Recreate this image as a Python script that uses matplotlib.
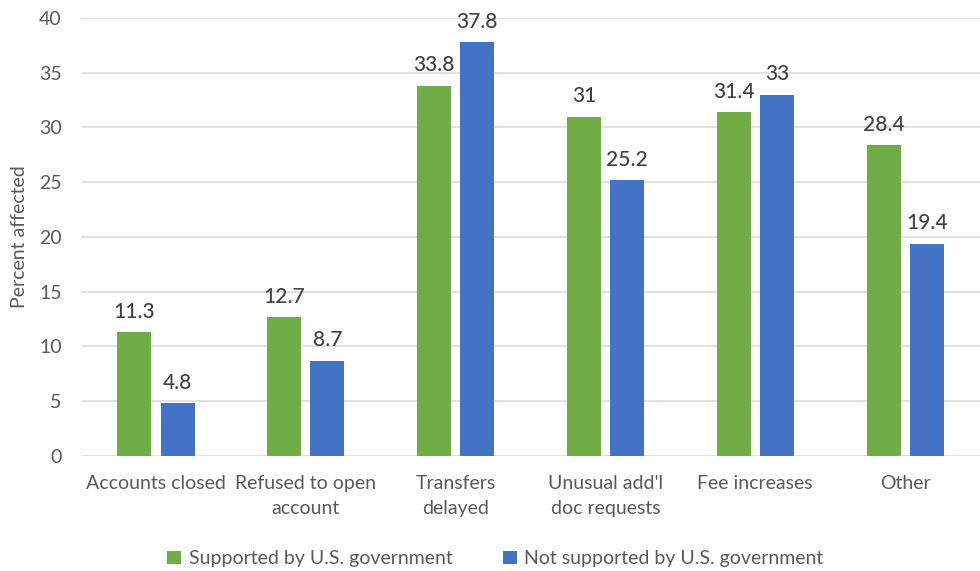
import matplotlib
matplotlib.use("Agg")
import matplotlib.pyplot as plt
import numpy as np

categories = ["Accounts closed", "Refused to open\naccount", "Transfers\ndelayed",
              "Unusual add'l\ndoc requests", "Fee increases", "Other"]
supported = [11.3, 12.7, 33.8, 31, 31.4, 28.4]
not_supported = [4.8, 8.7, 37.8, 25.2, 33, 19.4]
series_names = ["Supported by U.S. government", "Not supported by U.S. government"]
y_ticks = [0, 5, 10, 15, 20, 25, 30, 35, 40]

GREEN = "#70AD47"
BLUE = "#4472C4"
TEXT = "#595959"
LABEL = "#404040"

plt.rcParams["font.family"] = ["Lato", "DejaVu Sans"]

fig = plt.figure(figsize=(9.8, 5.71), dpi=100)
ax = fig.add_axes([0.0827, 0.2014, 0.9173, 0.7671])

x = np.arange(len(categories))
w = 0.227
off = 0.144
b1 = ax.bar(x - off, supported, w, color=GREEN, label=series_names[0], zorder=3)
b2 = ax.bar(x + off, not_supported, w, color=BLUE, label=series_names[1], zorder=3)

for bars, vals in ((b1, supported), (b2, not_supported)):
    for rect, v in zip(bars, vals):
        ax.annotate(f"{v:g}", (rect.get_x() + rect.get_width() / 2, v),
                    xytext=(0, 7.5), textcoords="offset points",
                    ha="center", va="bottom", fontsize=15, color=LABEL,
                    fontweight="medium")

ax.set_xlim(-0.5, len(categories) - 0.5)
ax.set_ylim(0, 40)
ax.set_yticks(y_ticks)
ax.set_xticks(x)
ax.set_xticklabels(categories, fontsize=14, color=TEXT, linespacing=1.55)
ax.tick_params(axis="y", labelsize=14, labelcolor=TEXT, length=0, pad=14)
ax.tick_params(axis="x", length=0, pad=14)
ax.grid(axis="y", color="#D9D9D9", linewidth=1.1, zorder=0)
for s in ax.spines.values():
    s.set_visible(False)
ax.set_ylabel("Percent affected", fontsize=14, color=TEXT, labelpad=8)

ax.legend(loc="upper center", bbox_to_anchor=(0.461, -0.175), ncol=2, frameon=False,
          fontsize=14, labelcolor=TEXT, handlelength=0.7, handleheight=0.7,
          handletextpad=0.4, columnspacing=2.6)

fig.savefig("out.png", dpi=100)
